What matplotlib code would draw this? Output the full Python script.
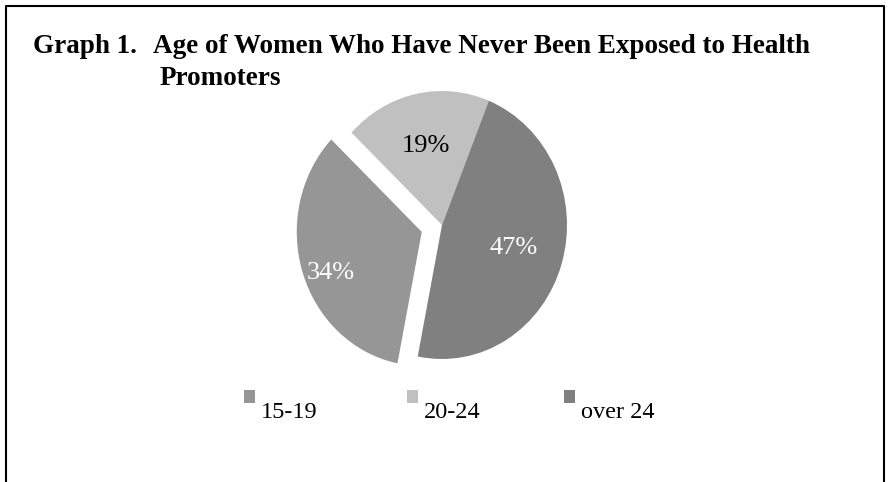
import numpy as np
import matplotlib.pyplot as plt
from matplotlib.lines import Line2D
from matplotlib.patches import Rectangle

# data
age_groups = ['15-19', '20-24', 'over 24']
shares = [34, 19, 47]
slice_colors = ['#969696', '#c0c0c0', '#808080']
label_colors = ['white', 'black', 'white']
explode = [0.17, 0, 0]

# label placement (radius along the slice bisector, extra vertical nudge)
label_dist = [0.76, 0.6, 0.6]
label_dy = [-0.08, 0, 0]

W, H = 895, 482
plt.rcParams['font.family'] = ['Liberation Serif', 'DejaVu Serif']

fig = plt.figure(figsize=(W / 100, H / 100), dpi=100)

# open frame (left, top, right)
fig.add_artist(Line2D([6 / W, 6 / W, 884 / W, 884 / W],
                      [0, 1 - 6 / H, 1 - 6 / H, 0],
                      color='black', lw=1.5))

# title
fig.text(33 / W, 1 - 53 / H, "Graph 1.", fontsize=19.5, fontweight='bold')
fig.text(153 / W, 1 - 53 / H, "Age of Women Who Have Never Been Exposed to Health",
         fontsize=19.5, fontweight='bold')
fig.text(160 / W, 1 - 85 / H, "Promoters", fontsize=19.5, fontweight='bold')

# pie (slightly taller than wide, as in the reference)
cx, cy, rx, ry = 442, 225, 125, 134
ax = fig.add_axes([(cx - rx) / W, 1 - (cy + ry) / H, 2 * rx / W, 2 * ry / H])
wedges, texts, autotexts = ax.pie(shares, colors=slice_colors, explode=explode,
                                  startangle=90 - 191.2, counterclock=False,
                                  autopct='%1.0f%%',
                                  wedgeprops=dict(linewidth=0))
for w, t, c, d, dy, e in zip(wedges, autotexts, label_colors, label_dist,
                             label_dy, explode):
    w.set_clip_on(False)
    mid = np.deg2rad((w.theta1 + w.theta2) / 2)
    t.set_position(((d + e) * np.cos(mid), (d + e) * np.sin(mid) + dy))
    t.set_color(c)
    t.set_fontsize(19)
ax.set_xlim(-1, 1)
ax.set_ylim(-1, 1)
ax.set_aspect('auto')
ax.axis('off')

# legend: square marker with text hanging a little below it
legend_x = [244, 407, 564]
for x, name, col in zip(legend_x, age_groups, slice_colors):
    fig.add_artist(Rectangle((x / W, 1 - 403 / H), 11 / W, 13 / H,
                             facecolor=col, edgecolor='none'))
    fig.text((x + 17) / W, 1 - 418 / H, name, fontsize=17.5)

fig.savefig('out.png', dpi=100, facecolor='white')
